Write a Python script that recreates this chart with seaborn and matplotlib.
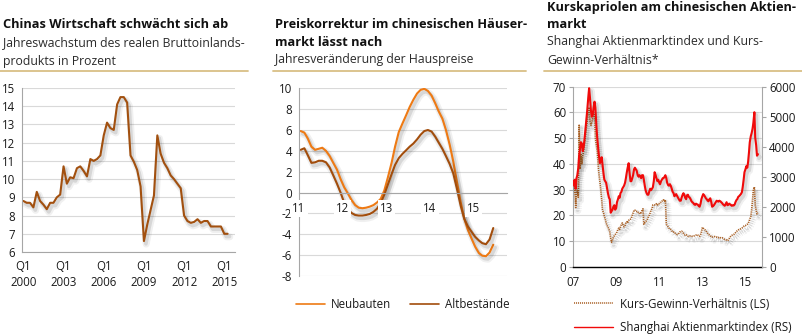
import numpy as np
import pandas as pd
import matplotlib
matplotlib.use("Agg")
import matplotlib.pyplot as plt
import matplotlib.dates as mdates
from matplotlib import patheffects as pe
from matplotlib.lines import Line2D
import seaborn as sns

# ---------------- data ----------------
# Panel 1: real GDP growth, quarterly from Q1 2000
gdp_growth = [8.8, 8.7, 8.7, 8.45,
              9.3, 8.8, 8.6, 8.35,
              8.7, 8.7, 9.0, 9.15,
              10.7, 9.75, 10.1, 10.05,
              10.6, 10.7, 10.45, 10.15,
              11.1, 11.0, 11.1, 11.3,
              12.4, 13.1, 12.8, 12.7,
              14.1, 14.5, 14.5, 14.2,
              11.3, 10.95, 10.5, 9.6,
              6.6, 7.5, 8.3, 9.1,
              12.4, 11.4, 10.9, 10.6,
              10.2, 10.0, 9.75, 9.5,
              8.0, 7.7, 7.6, 7.65,
              7.8, 7.6, 7.7, 7.7,
              7.4, 7.4, 7.4, 7.4,
              7.0, 7.0]
gdp_ticks = ["Q1\n2000", "Q1\n2003", "Q1\n2006", "Q1\n2009", "Q1\n2012", "Q1\n2015"]

# Panel 2: house prices, monthly from Jan 2011
neubauten = [5.9, 5.75, 5.2, 4.4, 4.1, 4.2, 4.3, 4.0, 3.5, 2.85, 2.2, 1.3,
             0.5, -0.1, -0.7, -1.2, -1.45, -1.5, -1.45, -1.35, -1.2, -0.95, -0.6, 0.2,
             1.5, 2.9, 4.4, 5.8, 6.6, 7.4, 8.2, 8.9, 9.5, 9.85, 9.95, 9.75,
             9.3, 8.55, 7.8, 7.1, 6.0, 4.6, 3.0, 1.0, -0.9, -2.5, -3.6, -4.4,
             -5.2, -5.8, -6.05, -6.1, -5.75, -5.0]
altbestaende = [4.1, 4.25, 3.6, 2.85, 2.9, 3.05, 3.05, 2.9, 2.4, 1.65, 0.85, 0.0,
                -1.0, -1.6, -1.95, -2.15, -2.2, -2.2, -2.15, -2.05, -1.85, -1.55, -1.0, -0.2,
                0.8, 1.8, 2.65, 3.3, 3.7, 4.05, 4.4, 4.7, 5.1, 5.55, 5.9, 6.0,
                5.85, 5.35, 4.8, 4.2, 3.5, 2.75, 1.85, 0.35, -1.25, -2.5, -3.25, -3.75,
                -4.25, -4.6, -4.85, -4.95, -4.5, -3.4]
house_ticks = ["11", "12", "13", "14", "15"]

# Panel 3: Shanghai index (RS) and P/E ratio (LS), semi-monthly from Jan 2007
idx_2007 = [2700, 2850, 2900, 2600, 2950, 3050, 3300, 3700, 3950, 4150, 4100, 3850,
            4000, 4250, 4600, 4900, 5250, 5600, 5950, 5650, 5200, 5000, 5050, 5300]
idx_2008 = [5500, 5300, 4700, 4300, 4000, 3700, 3450, 3550, 3650, 3400, 3100, 2900,
            2850, 2800, 2600, 2450, 2300, 2250, 1800, 1850, 1900, 2000, 2050, 1900]
idx_2009 = [1950, 2150, 2250, 2350, 2300, 2450, 2500, 2600, 2650, 2700, 2800, 2950,
            3150, 3300, 3450, 3150, 2850, 2850, 2950, 3050, 3250, 3300, 3250, 3200]
idx_2010 = [3050, 3000, 3050, 3000, 2950, 3050, 3050, 2900, 2700, 2550, 2450, 2400,
            2400, 2500, 2600, 2550, 2600, 2650, 2850, 3150, 3050, 2950, 2850, 2900]
idx_2011 = [2800, 2750, 2850, 2900, 2950, 2950, 3000, 3050, 2950, 2800, 2720, 2700,
            2750, 2700, 2600, 2500, 2450, 2350, 2380, 2420, 2350, 2300, 2250, 2200]
idx_2012 = [2200, 2300, 2400, 2450, 2400, 2300, 2250, 2380, 2400, 2330, 2300, 2250,
            2180, 2150, 2120, 2080, 2060, 2100, 2080, 2070, 2020, 2000, 2100, 2250]
idx_2013 = [2350, 2420, 2380, 2330, 2280, 2250, 2200, 2180, 2250, 2280, 2150, 2000,
            2020, 2050, 2100, 2150, 2200, 2180, 2170, 2200, 2180, 2150, 2120, 2080]
idx_2014 = [2050, 2030, 2100, 2150, 2050, 2060, 2100, 2080, 2050, 2030, 2050, 2040,
            2070, 2150, 2220, 2250, 2330, 2350, 2390, 2420, 2480, 2650, 2900, 3150]
idx_2015 = [3250, 3350, 3300, 3500, 3800, 4150, 4350, 4450, 4600, 4800, 5150, 4300,
            4050, 3700, 3750]

pe_2007 = [26, 30, 33, 23, 28, 30, 27, 55, 38, 44, 40, 43,
           45, 48, 51, 54, 57, 60, 62, 57, 55, 56, 58, 60]
pe_2008 = [59, 50, 47, 45, 40, 36, 33, 30, 26, 22, 21, 19.5,
           18.5, 17, 16, 15.5, 14.5, 13.5, 11, 9.5, 10.5, 11.5, 12, 12.5]
pe_2009 = [13, 13.5, 14.5, 15, 14.5, 15.5, 16.5, 17, 16, 15.5, 16, 17,
           17.5, 17, 18, 18.5, 18.5, 19, 20, 21, 22, 22, 21.5, 21.5]
pe_2010 = [21.5, 21, 21, 20.5, 21, 22, 22.5, 16.5, 17, 17.5, 18, 18.5,
           19.5, 20, 21, 22, 22.5, 24, 24, 24, 24, 24.5, 24, 24.5]
pe_2011 = [24.5, 25, 25, 25.5, 25.5, 26, 25.5, 26, 16.5, 16, 15.5, 15,
           14.5, 14.5, 14, 13.5, 13.5, 13, 13, 12.8, 12.5, 12.7, 13, 13.5]
pe_2012 = [13.6, 13.8, 13.5, 13, 12.5, 12.3, 12.5, 12, 11.8, 11.7, 11.9, 12,
           12, 11.8, 11.9, 12, 12.2, 12.3, 12.5, 12.3, 12, 11.8, 12.5, 13.5]
pe_2013 = [15.3, 15, 14.5, 14.3, 14, 13.5, 13, 12.5, 12.3, 12, 11.7, 11.5,
           11.7, 11.8, 11.7, 11.5, 11.5, 11.3, 11.3, 11.5, 11.3, 11.2, 11.3, 11]
pe_2014 = [10.8, 10.6, 10.5, 10.3, 10.1, 10.4, 11, 11.5, 12, 12.2, 12.3, 12.5,
           12.8, 13.2, 13.6, 14, 14.3, 14.5, 14.5, 14.8, 15, 15.3, 15.6, 16]
pe_2015 = [16, 16.2, 16.5, 16.9, 17.5, 18.5, 19.5, 22, 26, 30, 31, 24,
           22, 20.5, 21]
stock_ticks = ["07", "09", "11", "13", "15"]

# ---------------- style ----------------
sns.set_style("white")
plt.rcParams['font.family'] = ['Open Sans', 'DejaVu Sans']
FS = 8.3
TXT = '#1a1a1a'
GRID = '#d9d9d9'
SPINE = '#a6a6a6'
SEP = '#d9bf86'
C_GDP = '#a2500f'
C_NEU = '#ee7a14'
C_ALT = '#a24d0c'
C_IDX = '#f00a0a'
C_PE = '#a85e22'
PE_DASH = (0, (0.7, 0.6))

W, H = 802, 336
fig = plt.figure(figsize=(W / 100, H / 100), dpi=100)


def rect(x0, y0, x1, y1):
    return [x0 / W, 1 - y1 / H, (x1 - x0) / W, (y1 - y0) / H]


def fx(x):
    return x / W


def fy(y):
    return 1 - y / H


shadow = [pe.SimpleLineShadow(offset=(1.6, -2.2), shadow_color='k', alpha=0.06, linewidth=5.0),
          pe.SimpleLineShadow(offset=(1.4, -2.0), shadow_color='k', alpha=0.10, linewidth=2.6),
          pe.Normal()]


def style_axes(ax):
    for s in ax.spines.values():
        s.set_visible(False)
    ax.spines['left'].set_visible(True)
    ax.spines['left'].set_color(SPINE)
    ax.spines['left'].set_linewidth(0.8)
    ax.grid(axis='y', color=GRID, linewidth=0.8)
    ax.grid(axis='x', visible=False)
    ax.tick_params(axis='both', labelsize=FS, colors=TXT, length=3, width=0.8, color=SPINE, pad=2)
    ax.set_xlabel('')
    ax.set_ylabel('')


def header(x, lines_bold, lines_reg, y_bold, y_reg, sep_x0, sep_x1):
    for t, y in zip(lines_bold, y_bold):
        fig.text(fx(x), fy(y), t, fontsize=9.2, fontweight='bold', color='#111111', ha='left', va='center')
    for t, y in zip(lines_reg, y_reg):
        fig.text(fx(x), fy(y), t, fontsize=FS + 0.5, color='#2b2b2b', ha='left', va='center')
    fig.add_artist(Line2D([fx(sep_x0), fx(sep_x1)], [fy(71), fy(71)], color=SEP, lw=1.3))


# ---------------- panel 1 ----------------
ax1 = fig.add_axes(rect(22, 88, 235, 252))
q_dates = pd.date_range('2000-01-01', periods=len(gdp_growth), freq='QS')
df1 = pd.DataFrame({'date': q_dates, 'value': gdp_growth})
sns.lineplot(data=df1, x='date', y='value', ax=ax1, color=C_GDP, linewidth=1.5)
for ln in ax1.lines:
    ln.set_path_effects(shadow)
style_axes(ax1)
ax1.set_ylim(6, 15)
ax1.set_yticks(range(6, 16))
ax1.set_xlim(pd.Timestamp('1999-11-25'), pd.Timestamp('2015-10-20'))
tick_dates1 = [pd.Timestamp(f'{y}-01-01') for y in (2000, 2003, 2006, 2009, 2012, 2015)]
ax1.set_xticks(tick_dates1)
ax1.set_xticklabels(gdp_ticks, linespacing=1.25)
ax1.spines['bottom'].set_visible(True)
ax1.spines['bottom'].set_color(SPINE)
ax1.spines['bottom'].set_linewidth(0.8)
ax1.tick_params(axis='x', pad=3)
header(3, ['Chinas Wirtschaft schwächt sich ab'],
       ['Jahreswachstum des realen Bruttoinlands-', 'produkts in Prozent'],
       [25], [43, 61], 0, 248)

# ---------------- panel 2 ----------------
ax2 = fig.add_axes(rect(299, 88.3, 507, 276))
m_dates = pd.date_range('2011-01-01', periods=len(neubauten), freq='MS') + pd.Timedelta(days=14)
df2 = pd.DataFrame({'date': np.concatenate([m_dates, m_dates]),
                    'value': neubauten + altbestaende,
                    'Serie': ['Neubauten'] * len(neubauten) + ['Altbestände'] * len(altbestaende)})
sns.lineplot(data=df2, x='date', y='value', hue='Serie', ax=ax2,
             palette={'Neubauten': C_NEU, 'Altbestände': C_ALT}, linewidth=1.5, legend=False)
for ln in ax2.lines:
    ln.set_path_effects(shadow)
style_axes(ax2)
ax2.set_ylim(-8, 10)
ax2.set_yticks(range(-8, 11, 2))
ax2.set_yticklabels([str(v) for v in range(-8, 11, 2)])
ax2.set_xlim(pd.Timestamp('2011-01-01'), pd.Timestamp('2015-10-08'))
ax2.set_xticks([pd.Timestamp(f'20{t}-01-01') for t in house_ticks])
ax2.set_xticklabels(house_ticks)
ax2.spines['bottom'].set_visible(True)
ax2.spines['bottom'].set_position(('data', 0))
ax2.spines['bottom'].set_color(SPINE)
ax2.spines['bottom'].set_linewidth(0.8)
ax2.tick_params(axis='x', pad=4, length=3)
for lbl in ax2.get_xticklabels():
    lbl.set_bbox(dict(facecolor='white', edgecolor='none', pad=1.5))
ax2.xaxis.set_zorder(3)
h_neu = Line2D([], [], color=C_NEU, lw=1.2)
h_alt = Line2D([], [], color=C_ALT, lw=1.2)
fig.legend([h_neu, h_alt], ['Neubauten', 'Altbestände'], loc='center left',
           bbox_to_anchor=(fx(296), fy(305)), ncol=2, frameon=False, fontsize=FS,
           handlelength=2.5, handletextpad=0.55, columnspacing=1.6,
           borderpad=0, borderaxespad=0, labelcolor=TXT)
header(275, ['Preiskorrektur im chinesischen Häuser-', 'markt lässt nach'],
       ['Jahresveränderung der Hauspreise'],
       [25, 42], [60], 273, 526)

# ---------------- panel 3 ----------------
ax3 = fig.add_axes(rect(573, 86.7, 762, 266.7))
s_dates = pd.date_range('2007-01-01', periods=len(pe_2007) * 8 + len(pe_2015), freq='SMS')
pe_all = pe_2007 + pe_2008 + pe_2009 + pe_2010 + pe_2011 + pe_2012 + pe_2013 + pe_2014 + pe_2015
idx_all = idx_2007 + idx_2008 + idx_2009 + idx_2010 + idx_2011 + idx_2012 + idx_2013 + idx_2014 + idx_2015
df3 = pd.DataFrame({'date': s_dates, 'pe': pe_all, 'index': idx_all})
sns.lineplot(data=df3, x='date', y='pe', ax=ax3, color=C_PE, linewidth=1.2,
             linestyle=PE_DASH)
for ln in ax3.lines:
    ln.set_path_effects(shadow)
style_axes(ax3)
ax3.set_ylim(0, 70)
ax3.set_yticks(range(0, 71, 10))
ax3.set_xlim(pd.Timestamp('2007-01-01'), pd.Timestamp('2015-10-08'))
ax3.set_xticks([pd.Timestamp(f'20{t}-01-01') for t in stock_ticks])
ax3.set_xticklabels(stock_ticks)
ax3.spines['bottom'].set_visible(True)
ax3.spines['bottom'].set_color('#000000')
ax3.spines['bottom'].set_linewidth(1.0)
ax3.tick_params(axis='x', color='#000000', length=4, pad=3)

ax3b = ax3.twinx()
sns.lineplot(data=df3, x='date', y='index', ax=ax3b, color=C_IDX, linewidth=1.5)
for ln in ax3b.lines:
    ln.set_path_effects(shadow)
for s in ax3b.spines.values():
    s.set_visible(False)
ax3b.spines['right'].set_visible(True)
ax3b.spines['right'].set_color(SPINE)
ax3b.spines['right'].set_linewidth(0.8)
ax3b.set_ylim(0, 6000)
ax3b.set_yticks(range(0, 6001, 1000))
ax3b.set_ylabel('')
ax3b.set_xlabel('')
ax3b.grid(False)
ax3b.tick_params(axis='y', labelsize=FS, colors=TXT, length=3, width=0.8, color=SPINE, pad=2)
ax3b.set_xlim(pd.Timestamp('2007-01-01'), pd.Timestamp('2015-10-08'))

h_pe = Line2D([], [], color=C_PE, lw=1.1, linestyle=PE_DASH)
h_idx = Line2D([], [], color=C_IDX, lw=1.0)
fig.legend([h_pe, h_idx], ['Kurs-Gewinn-Verhältnis (LS)', 'Shanghai Aktienmarktindex (RS)'],
           loc='center left', bbox_to_anchor=(fx(574), fy(316)), ncol=1, frameon=False,
           fontsize=FS, handlelength=3.4, handletextpad=0.6, labelspacing=0.95,
           borderpad=0, borderaxespad=0, labelcolor=TXT)
header(547, ['Kurskapriolen am chinesischen Aktien-', 'markt'],
       ['Shanghai Aktienmarktindex und Kurs-', 'Gewinn-Verhältnis*'],
       [7, 24], [42, 60], 544, 802)

fig.savefig('out.png', dpi=100, facecolor='white')
